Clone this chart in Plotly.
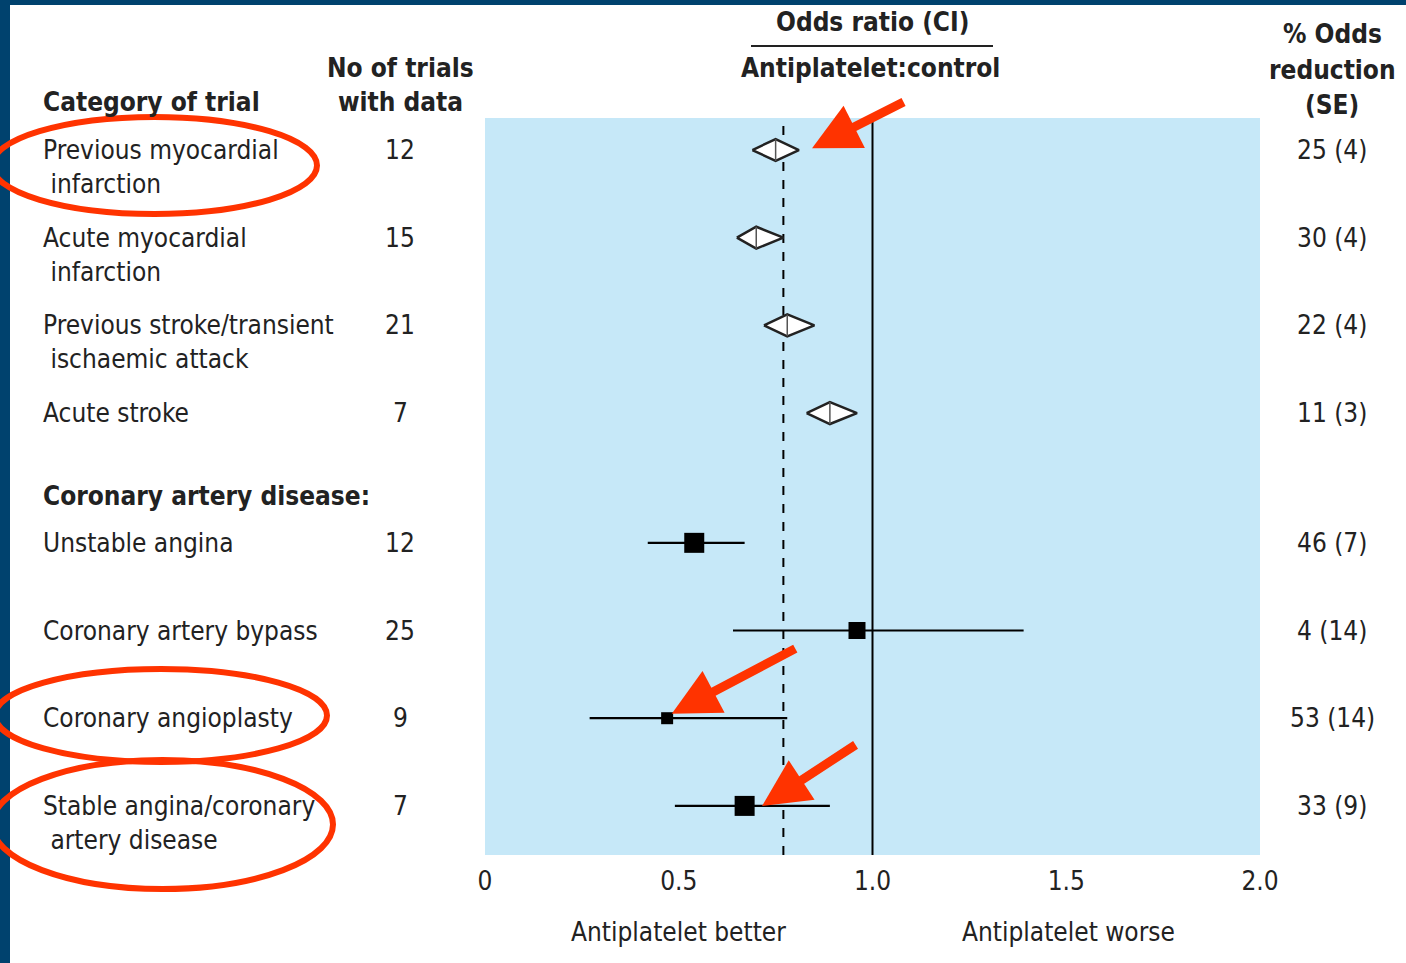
import plotly.graph_objects as go

# ---- data -------------------------------------------------------------
categories = [
    "Previous myocardial<br> infarction",
    "Acute myocardial<br> infarction",
    "Previous stroke/transient<br> ischaemic attack",
    "Acute stroke",
    "Unstable angina",
    "Coronary artery bypass",
    "Coronary angioplasty",
    "Stable angina/coronary<br> artery disease",
]
n_trials = [12, 15, 21, 7, 12, 25, 9, 7]
pct_reduction = [25, 30, 22, 11, 46, 4, 53, 33]
pct_se = [4, 4, 4, 3, 7, 14, 14, 9]
ci_low = [0.69, 0.65, 0.72, 0.83, 0.42, 0.64, 0.27, 0.49]
ci_high = [0.81, 0.77, 0.85, 0.96, 0.67, 1.39, 0.78, 0.89]
row_pos = [0, 1, 2, 3, 4.48, 5.48, 6.48, 7.48]
summary_kind = ["diamond"] * 4 + ["square"] * 4
square_size = [None, None, None, None, 20, 17, 12, 20]
pooled_or = 0.77
group_header = "Coronary artery disease:"
group_header_pos = 3.95
tick_vals = [0, 0.5, 1.0, 1.5, 2.0]
tick_text = ["0", "0.5", "1.0", "1.5", "2.0"]

odds_ratio = [1 - p / 100 for p in pct_reduction]

# ---- styling ------------------------------------------------------------
W, H = 1406, 963
FONT = "DejaVu Sans Condensed, Liberation Sans Narrow, sans-serif"
TXT = "#222222"
PANEL = "#c6e8f8"
NAVY = "#00426e"
RED = "#ff3300"
FS = 26


def px(x):
    return x / W


def py(y):
    return 1 - y / H


fig = go.Figure()

# confidence interval lines and squares
for k, r, lo, hi, orv, s in zip(summary_kind, row_pos, ci_low, ci_high, odds_ratio, square_size):
    if k == "square":
        fig.add_trace(go.Scatter(x=[lo, hi], y=[r, r], mode="lines",
                                 line=dict(color="black", width=2.2),
                                 hoverinfo="skip", showlegend=False))
        fig.add_trace(go.Scatter(x=[orv], y=[r], mode="markers",
                                 marker=dict(symbol="square", size=s, color="black",
                                             line=dict(width=0)),
                                 showlegend=False))
    else:
        h = 0.125
        fig.add_trace(go.Scatter(x=[lo, orv, hi, orv, lo], y=[r, r - h, r, r + h, r],
                                 mode="lines", fill="toself", fillcolor="white",
                                 line=dict(color="#222222", width=2.5),
                                 hoverinfo="skip", showlegend=False))
        fig.add_trace(go.Scatter(x=[orv, orv], y=[r - h, r + h], mode="lines",
                                 line=dict(color="#555555", width=1.5),
                                 hoverinfo="skip", showlegend=False))

# reference lines: pooled odds ratio (dashed) and no effect (solid)
fig.add_shape(type="line", xref="x", yref="paper", x0=pooled_or, x1=pooled_or,
              y0=py(855), y1=py(118), line=dict(color="black", width=2, dash="dash"),
              layer="below")
fig.add_shape(type="line", xref="x", yref="paper", x0=1.0, x1=1.0,
              y0=py(855), y1=py(122), line=dict(color="black", width=2),
              layer="below")

ann = []
# row labels, trial counts and odds reductions
for c, r, n, p, se in zip(categories, row_pos, n_trials, pct_reduction, pct_se):
    ann.append(dict(x=px(41), y=r, xref="paper", yref="y", text=c, showarrow=False,
                    xanchor="left", yanchor="top", yshift=17, align="left",
                    font=dict(size=FS, color=TXT, family=FONT)))
    ann.append(dict(x=px(400), y=r, xref="paper", yref="y", text=str(n), showarrow=False,
                    xanchor="center", yanchor="middle",
                    font=dict(size=FS, color=TXT, family=FONT)))
    ann.append(dict(x=px(1332), y=r, xref="paper", yref="y", text=f"{p} ({se})",
                    showarrow=False, xanchor="center", yanchor="middle",
                    font=dict(size=FS, color=TXT, family=FONT)))

ann.append(dict(x=px(41), y=group_header_pos, xref="paper", yref="y",
                text=f"<b>{group_header}</b>", showarrow=False, xanchor="left",
                yanchor="middle", font=dict(size=FS, color=TXT, family=FONT)))

# column headings
heads = [
    (px(41), py(102), "<b>Category of trial</b>", "left"),
    (px(400), py(68), "<b>No of trials</b>", "center"),
    (px(400), py(102), "<b>with data</b>", "center"),
    (px(872), py(22), "<b>Odds ratio (CI)</b>", "center"),
    (px(870), py(68), "<b>Antiplatelet:control</b>", "center"),
    (px(1332), py(34), "<b>% Odds</b>", "center"),
    (px(1332), py(70), "<b>reduction</b>", "center"),
    (px(1332), py(105), "<b>(SE)</b>", "center"),
]
for x, y, t, a in heads:
    ann.append(dict(x=x, y=y, xref="paper", yref="paper", text=t, showarrow=False,
                    xanchor=a, yanchor="middle",
                    font=dict(size=FS, color=TXT, family=FONT)))

# axis captions
for xv, t in [(0.5, "Antiplatelet better"), (1.505, "Antiplatelet worse")]:
    ann.append(dict(x=xv, y=py(932), xref="x", yref="paper", text=t, showarrow=False,
                    xanchor="center", yanchor="middle",
                    font=dict(size=FS, color=TXT, family=FONT)))

# highlight arrows
arrows = [
    (odds_ratio[0] + 0.094, row_pos[0] - 0.02, 93, -47),
    (odds_ratio[6] + 0.012, row_pos[6] - 0.05, 125, -66),
    (odds_ratio[7] + 0.045, row_pos[7], 95, -62),
]
for x, y, ax, ay in arrows:
    ann.append(dict(x=x, y=y, xref="x", yref="y", ax=ax, ay=ay, text="",
                    showarrow=True, arrowhead=2, arrowsize=1.05, arrowwidth=9,
                    arrowcolor=RED, standoff=0))

shapes = [
    # page frame
    dict(type="rect", xref="paper", yref="paper", x0=0, x1=1, y0=py(5), y1=1,
         fillcolor=NAVY, line=dict(width=0)),
    dict(type="rect", xref="paper", yref="paper", x0=0, x1=px(10), y0=0, y1=1,
         fillcolor=NAVY, line=dict(width=0)),
    # rule between the odds ratio heading lines
    dict(type="line", xref="paper", yref="paper", x0=px(751), x1=px(993),
         y0=py(46), y1=py(46), line=dict(color=TXT, width=2)),
    # highlight ellipses
    dict(type="circle", xref="paper", yref="paper", x0=px(-8), x1=px(317),
         y0=py(214), y1=py(117), line=dict(color=RED, width=6)),
    dict(type="circle", xref="paper", yref="paper", x0=px(-5), x1=px(327),
         y0=py(762), y1=py(669), line=dict(color=RED, width=6)),
    dict(type="circle", xref="paper", yref="paper", x0=px(-8), x1=px(333),
         y0=py(889), y1=py(760), line=dict(color=RED, width=6)),
]
fig.layout.shapes = list(fig.layout.shapes) + shapes

fig.update_layout(
    width=W, height=H, autosize=False,
    margin=dict(l=0, r=0, t=0, b=0, pad=0),
    paper_bgcolor="white",
    plot_bgcolor=PANEL,
    annotations=ann,
    showlegend=False,
    xaxis=dict(domain=[px(485), px(1260)], range=[0, 2], tickvals=tick_vals,
               ticktext=tick_text, showgrid=False, zeroline=False, showline=False,
               ticks="", tickfont=dict(size=FS, color=TXT, family=FONT),
               ticklabelstandoff=8, automargin=False),
    yaxis=dict(domain=[py(855), py(118)], range=[8.04, -0.365], showticklabels=False,
               showgrid=False, zeroline=False, showline=False, ticks="",
               automargin=False),
)

fig.write_html("out.html")
